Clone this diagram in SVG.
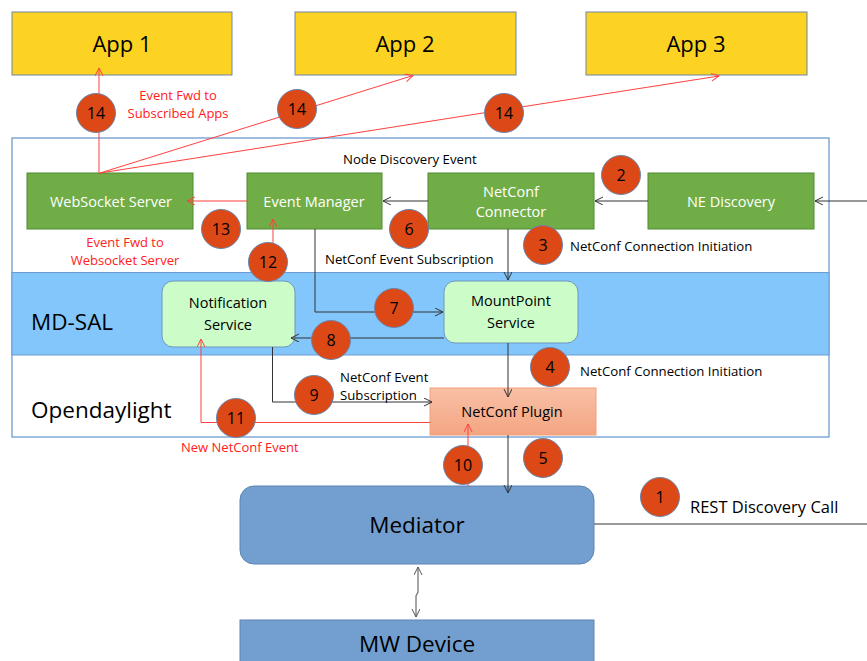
<svg xmlns="http://www.w3.org/2000/svg" width="867" height="661" viewBox="0 0 867 661">
<style>
text{font-family:"Open Sans","Liberation Sans",sans-serif;}
.app{fill:#FDD323;stroke:#6E86A3;stroke-width:1}
.apptx{font-size:22px;fill:#000;text-anchor:middle}
.gn{fill:#70AD47;stroke:#4E8A30;stroke-width:1}
.gtx{font-size:14.5px;fill:#fff;text-anchor:middle}
.lg{fill:#CCFDC9;stroke:#6E95BD;stroke-width:1}
.btx{font-size:14.5px;fill:#000;text-anchor:middle}
.lbl{font-size:13.2px;fill:#000}
.rlbl{font-size:13px;fill:#FF2020}
.big{font-size:22.5px;fill:#000}
.circ{fill:#DC4916;stroke:#6A86AE;stroke-width:1}
.num{font-size:16px;fill:#000;text-anchor:middle}
.ln{fill:none;stroke:#333;stroke-width:1}
.rl{fill:none;stroke:#FF4040;stroke-width:1}
.gl{fill:none;stroke:#777;stroke-width:1.3}
.med{fill:#729FCF;stroke:#5E84B3;stroke-width:1}
</style>
<defs>
<marker id="ak" markerWidth="10" markerHeight="10" refX="8" refY="4" orient="auto" markerUnits="userSpaceOnUse"><path d="M0,0 L8,4 L0,8" fill="none" stroke="#333" stroke-width="1"/></marker>
<marker id="ar" markerWidth="10" markerHeight="10" refX="8" refY="4" orient="auto" markerUnits="userSpaceOnUse"><path d="M0,0 L8,4 L0,8" fill="none" stroke="#FF4040" stroke-width="1"/></marker>
<marker id="ags" markerWidth="10" markerHeight="10" refX="8" refY="4" orient="auto-start-reverse" markerUnits="userSpaceOnUse"><path d="M0,0 L8,4 L0,8" fill="none" stroke="#555" stroke-width="1"/></marker>
<linearGradient id="pg" x1="0" y1="0" x2="0" y2="1"><stop offset="0" stop-color="#F8C0A6"/><stop offset="1" stop-color="#F4A582"/></linearGradient>
</defs>

<!-- containers -->
<g id="opendaylight">
<rect x="12" y="138" width="817" height="299" fill="#fff" stroke="#6D9BCF" stroke-width="1.3"/>
<rect x="12" y="272.5" width="817" height="82.5" fill="#82C6FC" stroke="#6D9BCF" stroke-width="1"/>
<text class="big" x="31" y="330">MD-SAL</text>
<text class="big" x="31" y="418">Opendaylight</text>
</g>

<!-- apps -->
<g id="app1"><rect class="app" x="12" y="12" width="220" height="63"/><text class="apptx" x="122" y="52">App 1</text></g>
<g id="app2"><rect class="app" x="295" y="12" width="221" height="63"/><text class="apptx" x="405" y="52">App 2</text></g>
<g id="app3"><rect class="app" x="586" y="12" width="221" height="63"/><text class="apptx" x="696" y="52">App 3</text></g>

<!-- nodes -->
<g id="websocket"><rect class="gn" x="27" y="173" width="166" height="56"/><text class="gtx" x="111" y="207">WebSocket Server</text></g>
<g id="eventmanager"><rect class="gn" x="247" y="173" width="135" height="56"/><text class="gtx" x="314" y="207">Event Manager</text></g>
<g id="netconfconnector"><rect class="gn" x="428" y="173" width="166" height="56"/><text class="gtx" x="511" y="197">NetConf</text><text class="gtx" x="511" y="217">Connector</text></g>
<g id="nediscovery"><rect class="gn" x="648" y="173" width="166" height="56"/><text class="gtx" x="731" y="207">NE Discovery</text></g>
<g id="notification"><rect class="lg" x="162" y="281" width="133" height="66" rx="11"/><text class="btx" x="228" y="308">Notification</text><text class="btx" x="228" y="330">Service</text></g>
<g id="mountpoint"><rect class="lg" x="444" y="281" width="134" height="62" rx="11"/><text class="btx" x="511" y="306">MountPoint</text><text class="btx" x="511" y="328">Service</text></g>
<g id="netconfplugin"><rect x="430" y="388" width="166" height="47" fill="url(#pg)" stroke="#F4A07A" stroke-width="1"/><text class="btx" x="512" y="417">NetConf Plugin</text></g>
<g id="mediator"><rect class="med" x="240" y="486" width="354" height="78" rx="14"/><text class="big" x="417" y="533" text-anchor="middle">Mediator</text></g>
<g id="mwdevice"><rect class="med" x="240" y="620" width="354" height="50"/><text class="big" x="417" y="652" text-anchor="middle">MW Device</text></g>

<!-- connectors -->
<g id="connectors">
<line class="rl" x1="99" y1="173" x2="99" y2="68" marker-end="url(#ar)"/>
<line class="rl" x1="100" y1="173" x2="413" y2="75.5" marker-end="url(#ar)"/>
<line class="rl" x1="100" y1="173" x2="719" y2="76" marker-end="url(#ar)"/>
<line class="ln" x1="867" y1="201" x2="815" y2="201" marker-end="url(#ak)"/>
<line class="ln" x1="648" y1="201" x2="595" y2="201" marker-end="url(#ak)"/>
<line class="ln" x1="428" y1="201" x2="383" y2="201" marker-end="url(#ak)"/>
<line class="rl" x1="247" y1="201" x2="187" y2="201" marker-end="url(#ar)"/>
<line class="rl" x1="273" y1="270" x2="273" y2="219" marker-end="url(#ar)"/>
<line class="ln" x1="508" y1="229" x2="508" y2="280" marker-end="url(#ak)"/>
<polyline class="ln" points="315,229 315,312 443,312" marker-end="url(#ak)"/>
<line class="ln" x1="444" y1="338" x2="291" y2="338" marker-end="url(#ak)"/>
<line class="ln" x1="508" y1="343" x2="508" y2="397" marker-end="url(#ak)"/>
<polyline class="ln" points="272.5,347 272.5,402 432,402" marker-end="url(#ak)"/>
<polyline class="rl" points="430,422.5 201,422.5 201,339" marker-end="url(#ar)"/>
<line class="rl" x1="468" y1="486" x2="468" y2="424" marker-end="url(#ar)"/>
<line class="ln" x1="508" y1="435" x2="508" y2="493" marker-end="url(#ak)"/>
<line class="gl" x1="594" y1="524" x2="867" y2="524"/>
<polyline class="gl" points="418,567 418,592 416,596 416,617" marker-start="url(#ags)" marker-end="url(#ags)"/>
</g>

<!-- labels -->
<g id="labels">
<text class="rlbl" x="178" y="100" text-anchor="middle">Event Fwd to</text>
<text class="rlbl" x="178" y="118" text-anchor="middle">Subscribed Apps</text>
<text class="lbl" x="343" y="164">Node Discovery Event</text>
<text class="rlbl" x="125" y="247" text-anchor="middle">Event Fwd to</text>
<text class="rlbl" x="125" y="265" text-anchor="middle">Websocket Server</text>
<text class="lbl" x="325" y="264">NetConf Event Subscription</text>
<text class="lbl" x="570" y="251">NetConf Connection Initiation</text>
<text class="lbl" x="580" y="376">NetConf Connection Initiation</text>
<text class="lbl" x="340" y="382">NetConf Event</text>
<text class="lbl" x="340" y="400">Subscription</text>
<text class="rlbl" x="181" y="452">New NetConf Event</text>
<text class="lbl" x="690" y="513" style="font-size:16.5px">REST Discovery Call</text>
</g>

<!-- step markers -->
<g id="steps">
<g id="s14a"><circle class="circ" cx="96" cy="113" r="19.5"/><text class="num" x="96" y="119">14</text></g>
<g id="s14b"><circle class="circ" cx="297" cy="109" r="19.5"/><text class="num" x="297" y="115">14</text></g>
<g id="s14c"><circle class="circ" cx="504" cy="113" r="19.5"/><text class="num" x="504" y="119">14</text></g>
<g id="s2"><circle class="circ" cx="621" cy="175" r="19.5"/><text class="num" x="621" y="181">2</text></g>
<g id="s3"><circle class="circ" cx="543" cy="245" r="19.5"/><text class="num" x="543" y="251">3</text></g>
<g id="s6"><circle class="circ" cx="409" cy="229" r="19.5"/><text class="num" x="409" y="235">6</text></g>
<g id="s13"><circle class="circ" cx="221" cy="229" r="19.5"/><text class="num" x="221" y="235">13</text></g>
<g id="s12"><circle class="circ" cx="268" cy="262" r="19.5"/><text class="num" x="268" y="268">12</text></g>
<g id="s7"><circle class="circ" cx="394" cy="308" r="19.5"/><text class="num" x="394" y="314">7</text></g>
<g id="s8"><circle class="circ" cx="331" cy="340" r="19.5"/><text class="num" x="331" y="346">8</text></g>
<g id="s4"><circle class="circ" cx="550" cy="367" r="19.5"/><text class="num" x="550" y="373">4</text></g>
<g id="s9"><circle class="circ" cx="314" cy="395" r="19.5"/><text class="num" x="314" y="401">9</text></g>
<g id="s11"><circle class="circ" cx="236" cy="418" r="19.5"/><text class="num" x="236" y="424">11</text></g>
<g id="s10"><circle class="circ" cx="463" cy="465" r="19.5"/><text class="num" x="463" y="471">10</text></g>
<g id="s5"><circle class="circ" cx="543" cy="458" r="19.5"/><text class="num" x="543" y="464">5</text></g>
<g id="s1"><circle class="circ" cx="660" cy="497" r="19.5"/><text class="num" x="660" y="503">1</text></g>
</g>
</svg>
